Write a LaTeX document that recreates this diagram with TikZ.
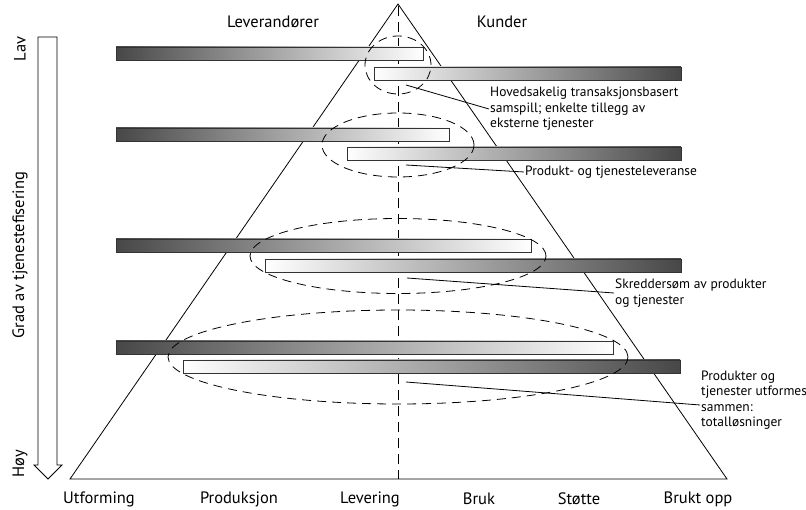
\documentclass[tikz,border=0pt]{standalone}
\usepackage{fontspec}
\setmainfont{PT Sans}
\usetikzlibrary{shapes.geometric}
\tikzset{
  lbl/.style={font=\fontsize{16.5}{18}\selectfont, inner sep=0pt},
  callout/.style={font=\fontsize{13.5}{15.5}\selectfont, align=left, inner sep=1pt, anchor=west},
  bar/.style={draw=black!80, line width=0.9pt, inner sep=0pt, outer sep=0pt, minimum height=13pt, anchor=north west},
  darkbar/.style={bar, left color=black!72, right color=white},
  lightbar/.style={bar, left color=white, right color=black!72},
  halo/.style={ellipse, draw, dashed, dash pattern=on 9pt off 6pt, line width=0.8pt, inner sep=0pt},
  leader/.style={line width=0.8pt},
}
\begin{document}
\begin{tikzpicture}[x=1pt,y=-1pt]
\useasboundingbox (0,0) rectangle (806,510);

% pyramid and centre axis
\coordinate (apex) at (398,4);
\coordinate (bl) at (70,479);
\coordinate (br) at (727,479);
\coordinate (axtop) at (398,6);
\coordinate (axbot) at (398,479);
\draw[line width=0.8pt] (bl) -- (apex) -- (br) -- cycle;
\draw[dashed, dash pattern=on 10pt off 6pt, line width=0.8pt] (axtop) -- (axbot);

% bars: suppliers (dark to light) and customers (light to dark)
\node[darkbar, minimum width=307pt] (s1) at (116,47) {};
\node[lightbar, minimum width=307pt] (c1) at (374,67) {};
\node[darkbar, minimum width=333pt] (s2) at (116,128) {};
\node[lightbar, minimum width=334pt] (c2) at (347,147) {};
\node[darkbar, minimum width=415pt] (s3) at (116,239) {};
\node[lightbar, minimum width=416pt] (c3) at (265,259) {};
\node[darkbar, minimum width=497pt] (s4) at (116,341) {};
\node[lightbar, minimum width=497pt] (c4) at (183,360) {};

% dashed interaction zones
\node[halo, minimum width=66pt, minimum height=58pt] (e1) at (398,65) {};
\node[halo, minimum width=152pt, minimum height=64pt] (e2) at (398,145) {};
\node[halo, minimum width=296pt, minimum height=75pt] (e3) at (398,256) {};
\node[halo, minimum width=460pt, minimum height=94pt] (e4) at (398,357) {};

% callouts
\node[callout] (t1) at (489,109) {Hovedsakelig transaksjonsbasert\\samspill; enkelte tillegg av\\eksterne tjenester};
\node[callout] (t2) at (524,172) {Produkt- og tjenesteleveranse};
\node[callout] (t3) at (614,293) {Skreddersøm av produkter\\og tjenester};
\node[callout] (t4) at (700,400) {Produkter og\\tjenester utformes\\sammen:\\totalløsninger};
\coordinate (p1) at (406,85);
\coordinate (p2) at (406,165);
\coordinate (p3) at (407,278);
\coordinate (p4) at (406,382);
\draw[leader] (p1) -- (t1.west);
\draw[leader] (p2) -- (t2.west);
\draw[leader] (p3) -- (t3.west);
\draw[leader] (p4) -- (t4.west |- 0,405);

% degree of servitisation arrow
\draw[line width=0.8pt] (38,37) -- (57,37) -- (57,465) -- (62,465) -- (48,479) -- (34,465) -- (38,465) -- cycle;
\node[lbl, rotate=90] (lav) at (20,49) {Lav};
\node[lbl, rotate=90] (grad) at (20,255) {Grad av tjenestefisering};
\node[lbl, rotate=90] (hoy) at (20,464) {Høy};

% headings
\node[lbl] (lev) at (273,22) {Leverandører};
\node[lbl] (kun) at (502,22) {Kunder};

% value chain stages
\node[lbl] (u1) at (99,499) {Utforming};
\node[lbl] (u2) at (239,499) {Produksjon};
\node[lbl] (u3) at (370,499) {Levering};
\node[lbl] (u4) at (479,499) {Bruk};
\node[lbl] (u5) at (579,499) {Støtte};
\node[lbl] (u6) at (698,499) {Brukt opp};
\end{tikzpicture}
\end{document}
